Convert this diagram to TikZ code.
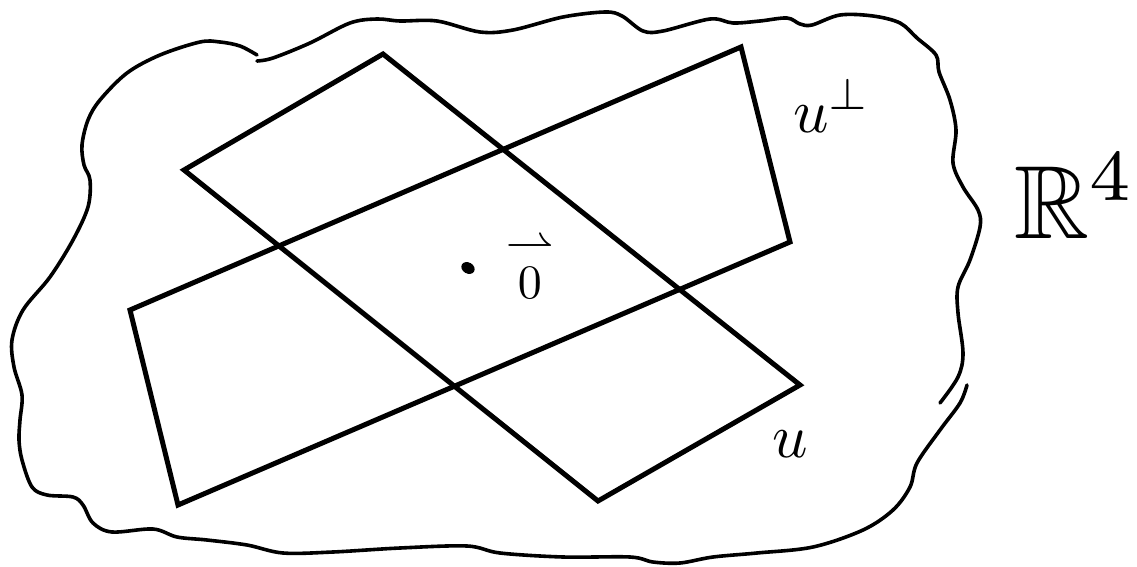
\documentclass[tikz,border=0pt]{standalone}
\usepackage{amsmath,amssymb}
\begin{document}
\begin{tikzpicture}[x=1pt,y=-1pt,
  plane/.style={line width=5pt, line join=miter},
  blob/.style={line width=3.6pt, line cap=round, line join=round},
  lbl/.style={inner sep=0pt, anchor=base west, transform shape}]
\clip (0,0) rectangle (1137,567);
\useasboundingbox (0,0) rectangle (1137,567);
\fill[white] (0,0) rectangle (1137,567);

% plane u
\coordinate (u1) at (184,170);
\coordinate (u2) at (383,54);
\coordinate (u3) at (800,385);
\coordinate (u4) at (598,501);
\draw[plane] (u1) -- (u2) -- (u3) -- (u4) -- cycle;

% plane u-perp
\coordinate (p1) at (130,310);
\coordinate (p2) at (741,47);
\coordinate (p3) at (790,242);
\coordinate (p4) at (178,505);
\draw[plane] (p1) -- (p2) -- (p3) -- (p4) -- cycle;

% the space (blob), two strokes
\draw[blob] plot[smooth, tension=0.55] coordinates {
 (257,55) (240,46) (220,42) (200,42) (160,55) (127,73) (100,100) (88,120)
 (82,145) (84,165) (90,180) (88,207) (73,240) (50,277) (23,310) (12,340)
 (14,367) (22,395) (20,420) (19,440) (22,460) (32,487) (47,495) (73,497)
 (83,505) (93,523) (112,532) (153,529) (177,537) (207,540) (247,545)
 (283,553) (333,552) (400,548) (467,546) (500,553) (563,557) (630,557)
 (653,562) (680,563) (713,557) (757,553) (813,547) (863,530) (893,510)
 (910,487) (917,463) (940,430) (960,403) (967,385)};
\draw[blob] plot[smooth, tension=0.55] coordinates {
 (257,61) (273,58) (310,43) (350,23) (377,19) (400,21) (437,21) (480,32)
 (513,30) (563,17) (605,12) (622,16) (643,31) (663,31) (710,19) (733,23)
 (760,21) (787,18) (800,24) (812,25) (840,15) (873,16) (900,23) (917,38)
 (936,55) (939,72) (950,100) (956,130) (953,163) (963,187) (978,210)
 (980,227) (970,260) (958,287) (958,313) (963,353) (958,377) (940,403)};

% origin
\fill[rotate around={-30:(468,268)}] (468,268) ellipse (7pt and 5.5pt);
\node[lbl, scale=4.8] (zero) at (505,298) {$\overset{\textstyle\rightharpoonup}{0}$};

% labels
\node[lbl, scale=6.2] (uperp) at (792,132) {$u^{\perp}$};
\node[lbl, scale=6.2] (ulab) at (771,457) {$u$};
\node[lbl, scale=10.4] (space) at (1012,238) {$\mathbb{R}^4$};
\end{tikzpicture}
\end{document}
